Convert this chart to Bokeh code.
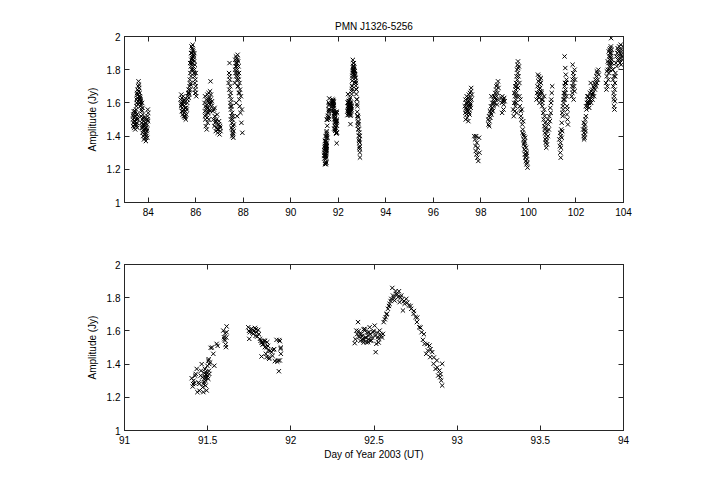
from bokeh.plotting import figure
from bokeh.layouts import column
from bokeh.models import LinearAxis, FixedTicker, Range1d, CustomJSTickFormatter
from bokeh.embed import file_html
from bokeh.resources import INLINE

# ---------------- data (Day of Year 2003, Amplitude Jy) ----------------
day_83 = [83.35,83.36,83.37,83.38,83.39,83.40,83.41,83.42,83.43,83.44,83.45,83.46,83.47,83.48,83.49,83.50,83.51,83.52,83.53,83.54,83.55,83.37,83.41,83.45,83.49,83.53,
          83.50,83.51,83.52,83.53,83.54,83.55,83.56,83.57,83.58,83.59,83.60,83.61,83.62,83.63,83.64,83.65,83.66,83.67,83.68,83.70,83.72,83.74,83.76,83.53,83.57,83.61,83.65,83.69,83.59,83.63,
          83.70,83.72,83.73,83.74,83.75,83.76,83.77,83.78,83.79,83.80,83.81,83.82,83.83,83.84,83.85,83.86,83.87,83.88,83.89,83.90,83.91,83.92,83.93,83.94,83.95,83.96,83.97,83.98,83.99,84.00,83.75,83.80,83.85,83.90,83.95,83.78,83.88,83.98]
amp_83 = [1.50,1.46,1.53,1.48,1.55,1.45,1.51,1.47,1.54,1.49,1.44,1.52,1.47,1.50,1.56,1.46,1.53,1.48,1.51,1.45,1.50,1.52,1.49,1.55,1.47,1.53,
          1.58,1.62,1.60,1.66,1.63,1.68,1.61,1.65,1.70,1.73,1.67,1.64,1.69,1.62,1.66,1.60,1.63,1.58,1.61,1.59,1.56,1.60,1.57,1.65,1.59,1.71,1.64,1.62,1.67,1.60,
          1.52,1.48,1.55,1.45,1.50,1.42,1.53,1.47,1.40,1.49,1.44,1.38,1.46,1.41,1.51,1.39,1.44,1.48,1.42,1.37,1.45,1.40,1.50,1.43,1.47,1.39,1.52,1.56,1.49,1.54,1.46,1.43,1.47,1.41,1.44,1.51,1.45,1.50]

day_85 = [85.36,85.38,85.39,85.40,85.41,85.42,85.43,85.44,85.45,85.46,85.47,85.48,85.49,85.50,85.51,85.52,85.53,85.54,85.55,85.56,85.58,85.60,85.62,85.64,85.66,85.68,85.70,85.72,85.40,85.45,85.50,85.55,85.60,85.65,85.70,
          85.72,85.74,85.75,85.76,85.77,85.78,85.79,85.80,85.81,85.82,85.83,85.84,85.85,85.86,85.87,85.88,85.89,85.90,85.91,85.92,85.93,85.94,85.95,85.96,85.97,85.98,85.99,86.00,86.02,85.76,85.80,85.84,85.88,85.92,85.96,86.00,85.82,85.86,85.90,85.94,85.78,85.98]
amp_85 = [1.62,1.58,1.65,1.60,1.55,1.63,1.57,1.61,1.53,1.59,1.64,1.56,1.52,1.58,1.62,1.54,1.60,1.51,1.57,1.55,1.50,1.53,1.56,1.60,1.64,1.66,1.68,1.65,1.59,1.55,1.61,1.52,1.57,1.62,1.63,
          1.66,1.70,1.74,1.68,1.78,1.72,1.82,1.76,1.86,1.80,1.90,1.84,1.93,1.88,1.95,1.86,1.91,1.82,1.89,1.78,1.85,1.80,1.76,1.72,1.68,1.74,1.66,1.70,1.64,1.84,1.90,1.87,1.92,1.88,1.83,1.78,1.94,1.80,1.86,1.90,1.71,1.66]

day_86 = [86.37,86.38,86.39,86.40,86.41,86.42,86.43,86.44,86.45,86.46,86.47,86.48,86.49,86.50,86.51,86.52,86.53,86.54,86.55,86.56,86.57,86.58,86.59,86.60,86.62,86.64,86.66,86.68,86.40,86.45,86.50,86.55,86.60,86.65,86.62,
          86.72,86.74,86.76,86.78,86.80,86.82,86.84,86.86,86.88,86.90,86.92,86.94,86.96,86.98,87.00,87.02,87.04,86.79,86.85,86.91,86.97,87.03]
amp_86 = [1.60,1.55,1.64,1.50,1.58,1.46,1.53,1.62,1.56,1.44,1.59,1.51,1.65,1.48,1.57,1.61,1.54,1.66,1.50,1.60,1.63,1.56,1.59,1.67,1.62,1.65,1.58,1.61,1.52,1.57,1.54,1.62,1.55,1.60,1.73,
          1.55,1.50,1.56,1.46,1.52,1.48,1.43,1.50,1.45,1.53,1.42,1.47,1.44,1.49,1.41,1.46,1.43,1.57,1.49,1.44,1.47,1.45]

day_87 = [87.38,87.40,87.41,87.42,87.43,87.44,87.45,87.46,87.47,87.48,87.49,87.50,87.51,87.52,87.53,87.54,87.55,87.56,87.57,87.58,87.59,87.60,87.42,87.46,87.50,87.54,87.58,87.48,87.56,
          87.64,87.65,87.66,87.67,87.68,87.69,87.70,87.71,87.72,87.73,87.74,87.75,87.76,87.77,87.78,87.79,87.80,87.81,87.82,87.83,87.84,87.85,87.86,87.88,87.90,87.92,87.94,87.96,87.68,87.72,87.76,87.80,87.84,87.70,87.78,87.74]
amp_87 = [1.72,1.78,1.68,1.84,1.74,1.64,1.70,1.60,1.66,1.56,1.62,1.52,1.58,1.48,1.54,1.44,1.50,1.41,1.46,1.39,1.43,1.47,1.76,1.58,1.45,1.40,1.52,1.50,1.42,
          1.72,1.80,1.86,1.78,1.84,1.88,1.76,1.82,1.87,1.74,1.84,1.80,1.89,1.70,1.85,1.76,1.82,1.66,1.78,1.62,1.72,1.58,1.68,1.54,1.64,1.48,1.56,1.42,1.82,1.78,1.86,1.74,1.66,1.60,1.70,1.52]

day_91 = [91.404,91.410,91.420,91.428,91.434,91.438,91.450,91.458,91.464,91.470,91.474,91.478,91.484,91.484,91.490,91.494,91.498,91.504,91.510,91.504,
          91.412,91.486,91.490,91.496,91.480,91.506,91.510,
          91.415,91.425,91.445,91.460,91.468,91.476,91.482,91.488,91.492,91.500,91.508,91.515,91.450,
          91.518,91.534,91.540,91.554,91.594,91.598,91.604,91.608,91.614,91.614,91.610,
          91.526,91.560,91.600,91.605,91.612,
          91.744,91.754,91.750,91.764,91.774,91.784,91.794,91.798,91.804,91.814,91.824,91.824,91.830,91.838,91.844,91.850,91.854,91.858,91.864,91.870,
          91.884,91.894,91.904,91.914,91.924,91.928,91.934,91.938,91.940,91.934,
          91.748,91.758,91.768,91.778,91.788,91.790,91.808,91.818,91.828,91.835,91.845,91.855,91.862,91.868,91.875,91.890,91.900,91.918,91.930,91.940]
amp_91 = [1.315,1.265,1.285,1.341,1.371,1.231,1.281,1.331,1.400,1.260,1.231,1.291,1.321,1.371,1.351,1.241,1.390,1.420,1.341,1.311,
          1.280,1.300,1.335,1.320,1.345,1.430,1.400,
          1.300,1.330,1.290,1.360,1.320,1.280,1.310,1.270,1.340,1.330,1.360,1.410,1.240,
          1.498,1.462,1.390,1.522,1.602,1.562,1.542,1.518,1.627,1.592,1.502,
          1.500,1.510,1.550,1.585,1.560,
          1.622,1.592,1.552,1.612,1.582,1.618,1.592,1.566,1.606,1.552,1.532,1.446,1.518,1.542,1.502,1.462,1.442,1.532,1.482,1.432,
          1.472,1.486,1.418,1.546,1.422,1.357,1.538,1.492,1.462,1.422,
          1.600,1.610,1.590,1.600,1.570,1.610,1.580,1.540,1.530,1.520,1.540,1.500,1.510,1.440,1.480,1.450,1.490,1.415,1.545,1.500]

day_92 = [92.384,92.394,92.404,92.410,92.424,92.434,92.444,92.454,92.464,92.470,
          92.414,92.434,92.444,92.454,92.464,92.474,92.484,92.494,92.504,92.510,92.514,92.524,92.534,92.544,92.554,
          92.388,92.398,92.408,92.418,92.428,92.438,92.448,92.458,92.468,92.478,92.488,92.498,92.508,92.518,92.528,92.538,92.548,92.438,92.478,92.528,
          92.558,92.570,92.578,92.584,92.594,92.604,92.610,92.614,92.624,92.634,92.644,92.650,92.654,92.664,92.674,92.684,92.694,
          92.565,92.575,92.590,92.600,92.620,92.630,92.640,92.660,92.670,92.680,92.700,
          92.710,92.724,92.738,92.750,92.758,92.772,92.786,92.794,92.804,92.814,92.824,92.834,92.838,92.850,92.858,92.870,92.878,
          92.720,92.740,92.760,92.780,92.800,92.820,92.840,92.860,92.880,92.900,
          92.886,92.894,92.904,92.910,92.910,92.898]
amp_92 = [1.526,1.602,1.653,1.562,1.582,1.542,1.612,1.558,1.532,1.592,
          1.582,1.552,1.602,1.532,1.572,1.622,1.542,1.592,1.632,1.472,1.522,1.562,1.602,1.572,1.582,
          1.550,1.580,1.600,1.540,1.570,1.610,1.560,1.590,1.550,1.580,1.560,1.600,1.570,1.590,1.550,1.580,1.560,1.530,1.540,1.530,
          1.653,1.683,1.703,1.733,1.763,1.793,1.859,1.813,1.783,1.823,1.803,1.839,1.773,1.813,1.723,1.763,1.793,
          1.670,1.700,1.750,1.780,1.800,1.840,1.820,1.800,1.790,1.780,1.770,
          1.753,1.733,1.703,1.683,1.653,1.622,1.592,1.546,1.522,1.462,1.482,1.512,1.442,1.472,1.402,1.371,1.422,
          1.750,1.720,1.680,1.620,1.580,1.520,1.490,1.440,1.380,1.340,
          1.331,1.361,1.301,1.402,1.271,1.321]

day_97 = [97.32,97.34,97.35,97.36,97.37,97.38,97.39,97.40,97.41,97.42,97.43,97.44,97.45,97.46,97.47,97.48,97.49,97.50,97.51,97.52,97.53,97.54,97.55,97.56,97.57,97.58,97.59,97.60,97.62,97.38,97.44,97.50,97.56,
          97.72,97.75,97.77,97.78,97.80,97.81,97.83,97.85,97.87,97.89,97.92,97.94]
amp_97 = [1.58,1.54,1.62,1.50,1.57,1.60,1.53,1.64,1.56,1.51,1.60,1.58,1.55,1.63,1.49,1.59,1.65,1.56,1.61,1.53,1.58,1.66,1.60,1.63,1.57,1.67,1.69,1.62,1.65,1.56,1.61,1.54,1.59,
          1.40,1.38,1.34,1.31,1.40,1.29,1.36,1.27,1.33,1.25,1.39,1.30]

day_98 = [98.30,98.32,98.34,98.36,98.38,98.40,98.42,98.44,98.46,98.48,98.50,98.52,98.54,98.56,98.58,98.60,98.62,98.64,98.66,98.68,98.70,98.72,98.74,98.35,98.41,98.47,98.53,98.59,98.65,98.71,98.44,98.68,
          98.86,98.88,98.90,98.92,98.94,98.96,98.98,99.00,98.89,98.95]
amp_98 = [1.50,1.47,1.52,1.49,1.55,1.51,1.58,1.53,1.56,1.60,1.55,1.62,1.58,1.64,1.60,1.66,1.62,1.68,1.64,1.71,1.66,1.73,1.69,1.46,1.54,1.57,1.60,1.63,1.70,1.62,1.64,1.59,
          1.63,1.60,1.64,1.61,1.62,1.59,1.63,1.61,1.54,1.56]

day_99 = [99.36,99.38,99.40,99.42,99.44,99.45,99.46,99.47,99.48,99.49,99.50,99.51,99.52,99.53,99.54,99.55,99.56,99.57,99.58,99.60,99.62,99.40,99.44,99.48,99.52,99.56,99.50,
          99.62,99.64,99.66,99.68,99.70,99.72,99.74,99.76,99.78,99.79,99.80,99.81,99.82,99.83,99.84,99.85,99.86,99.87,99.88,99.89,99.90,99.91,99.92,99.93,99.94,99.96,99.68,99.75,99.82,99.86,99.90,99.94]
amp_99 = [1.56,1.52,1.60,1.55,1.64,1.58,1.68,1.62,1.72,1.66,1.76,1.70,1.80,1.74,1.83,1.78,1.85,1.81,1.76,1.82,1.72,1.66,1.70,1.60,1.64,1.69,1.54,
          1.64,1.58,1.62,1.55,1.50,1.56,1.47,1.44,1.49,1.41,1.38,1.35,1.40,1.32,1.37,1.29,1.34,1.27,1.31,1.25,1.33,1.28,1.23,1.30,1.26,1.21,1.52,1.42,1.36,1.39,1.29,1.24]

day_100 = [100.34,100.36,100.38,100.40,100.42,100.43,100.44,100.45,100.46,100.47,100.48,100.49,100.50,100.52,100.54,100.56,100.58,100.40,100.46,100.52,
           100.56,100.58,100.60,100.62,100.64,100.66,100.67,100.68,100.69,100.70,100.71,100.72,100.73,100.74,100.75,100.76,100.78,100.80,100.82,100.84,100.86,100.88,100.90,100.92,100.94,100.96,100.98,101.00,100.70,100.76,100.82,100.66,100.95]
amp_100 = [1.62,1.66,1.70,1.64,1.73,1.68,1.76,1.63,1.71,1.66,1.74,1.69,1.65,1.72,1.67,1.62,1.60,1.77,1.60,1.75,
           1.66,1.58,1.62,1.54,1.50,1.56,1.46,1.52,1.42,1.48,1.38,1.45,1.36,1.41,1.33,1.39,1.35,1.43,1.40,1.47,1.44,1.52,1.49,1.57,1.54,1.62,1.66,1.70,1.44,1.37,1.50,1.64,1.60]

day_101 = [101.30,101.32,101.33,101.34,101.35,101.36,101.37,101.38,101.40,101.42,101.36,
           101.40,101.42,101.44,101.45,101.46,101.47,101.48,101.49,101.50,101.52,101.53,101.54,101.55,101.56,101.58,101.60,101.62,101.64,101.66,
           101.82,101.84,101.85,101.86,101.87,101.88,101.89,101.90,101.92,101.94,101.96,101.52,101.55,101.57,101.60,101.62,101.64,101.86,101.90,101.94]
amp_101 = [1.38,1.34,1.42,1.30,1.36,1.40,1.33,1.44,1.39,1.43,1.27,
           1.48,1.54,1.52,1.58,1.56,1.62,1.60,1.66,1.64,1.70,1.62,1.72,1.66,1.68,1.72,1.64,1.53,1.50,1.47,
           1.64,1.70,1.66,1.74,1.68,1.78,1.72,1.76,1.70,1.80,1.74,1.88,1.81,1.77,1.74,1.58,1.56,1.83,1.62,1.67]

day_102 = [102.30,102.32,102.33,102.34,102.35,102.36,102.37,102.38,102.39,102.40,102.42,102.44,102.46,102.48,102.34,102.38,102.42,
           102.48,102.50,102.52,102.54,102.56,102.58,102.60,102.62,102.64,102.66,102.68,102.70,102.72,102.74,102.76,102.78,102.80,102.82,102.84,102.86,102.88,102.90,102.92,102.94,102.96,102.52,102.58,102.64,102.70,102.76,102.82,102.88]
amp_102 = [1.44,1.40,1.48,1.42,1.46,1.39,1.44,1.41,1.50,1.43,1.52,1.56,1.60,1.64,1.38,1.47,1.58,
           1.62,1.58,1.64,1.60,1.57,1.66,1.62,1.72,1.60,1.64,1.68,1.62,1.66,1.70,1.64,1.72,1.68,1.74,1.70,1.76,1.72,1.78,1.74,1.80,1.77,1.60,1.62,1.67,1.65,1.69,1.71,1.79]

day_103 = [103.26,103.28,103.30,103.32,103.34,103.36,103.37,103.38,103.39,103.40,103.41,103.42,103.43,103.44,103.45,103.46,103.47,103.48,103.49,103.50,103.52,103.54,103.30,103.34,103.38,103.42,103.46,103.50,103.48,
           103.55,103.56,103.57,103.58,103.59,103.60,103.61,103.62,103.63,103.64,103.65,103.66,103.68,103.70,103.72,103.74,103.76,103.78,103.80,103.82,103.84,103.86,103.88,103.90,103.92,103.94,103.96,103.98,103.60,103.64,103.75,103.85,103.95,103.80,103.90]
amp_103 = [1.72,1.68,1.76,1.70,1.80,1.74,1.84,1.78,1.88,1.82,1.92,1.86,1.90,1.84,1.93,1.88,1.94,1.82,1.90,1.86,1.84,1.80,1.79,1.85,1.91,1.80,1.87,1.92,1.99,
           1.80,1.74,1.70,1.66,1.62,1.58,1.64,1.56,1.68,1.72,1.76,1.78,1.84,1.88,1.82,1.90,1.86,1.92,1.88,1.94,1.86,1.90,1.95,1.88,1.92,1.86,1.90,1.94,1.76,1.61,1.93,1.84,1.88,1.91,1.83]

title_text = "PMN J1326-5256"
y_label = "Amplitude (Jy)"
x_label = "Day of Year 2003 (UT)"
y_ticks = [1, 1.2, 1.4, 1.6, 1.8, 2]
y_tick_labels = ["1", "1.2", "1.4", "1.6", "1.8", "2"]
top_x_ticks = [84, 86, 88, 90, 92, 94, 96, 98, 100, 102, 104]
top_x_tick_labels = ["84", "86", "88", "90", "92", "94", "96", "98", "100", "102", "104"]
bot_x_ticks = [91, 91.5, 92, 92.5, 93, 93.5, 94]
bot_x_tick_labels = ["91", "91.5", "92", "92.5", "93", "93.5", "94"]

all_day = day_83 + day_85 + day_86 + day_87 + day_91 + day_92 + day_97 + day_98 + day_99 + day_100 + day_101 + day_102 + day_103
all_amp = amp_83 + amp_85 + amp_86 + amp_87 + amp_91 + amp_92 + amp_97 + amp_98 + amp_99 + amp_100 + amp_101 + amp_102 + amp_103

FONT = "Liberation Sans"
AX = "#262626"


def style_axis(ax, ticks, labels, show_labels=True):
    ax.ticker = FixedTicker(ticks=ticks)
    ax.major_tick_in = 5
    ax.major_tick_out = 0
    ax.minor_tick_in = 0
    ax.minor_tick_out = 0
    ax.axis_line_color = AX
    ax.major_tick_line_color = AX
    ax.major_label_text_font = FONT
    ax.major_label_text_font_size = "10px"
    ax.major_label_text_color = "black"
    ax.axis_label_text_font = FONT
    ax.axis_label_text_font_size = "10px"
    ax.axis_label_text_font_style = "normal"
    ax.axis_label_text_color = "black"
    if show_labels:
        ax.major_label_overrides = dict(zip(ticks, labels))
    else:
        ax.formatter = CustomJSTickFormatter(code="return ''")
        ax.major_label_standoff = 0


def make_panel(x_range, x_ticks, x_labels, title, xlab, h, top, bottom):
    kw = dict(width=715, height=h, output_backend="svg", toolbar_location=None,
              x_range=Range1d(*x_range), y_range=Range1d(1, 2),
              min_border_left=124, min_border_right=92, min_border_top=top, min_border_bottom=bottom)
    if title:
        kw["title"] = title
    p = figure(**kw)
    p.grid.visible = False
    p.outline_line_color = AX
    p.background_fill_color = "white"
    p.border_fill_color = "white"
    if title:
        p.title.align = "center"
        p.title.text_font = FONT
        p.title.text_font_size = "10px"
        p.title.text_font_style = "normal"
        p.title.text_color = "black"
    style_axis(p.xaxis[0], x_ticks, x_labels)
    style_axis(p.yaxis[0], y_ticks, y_tick_labels)
    p.yaxis[0].axis_label = y_label
    p.yaxis[0].major_label_standoff = 4
    p.yaxis[0].axis_label_standoff = 6
    p.xaxis[0].major_label_standoff = 5
    if xlab:
        p.xaxis[0].axis_label = xlab
        p.xaxis[0].axis_label_standoff = 2
    ax_top = LinearAxis()
    style_axis(ax_top, x_ticks, x_labels, show_labels=False)
    p.add_layout(ax_top, "above")
    ax_right = LinearAxis()
    style_axis(ax_right, y_ticks, y_tick_labels, show_labels=False)
    p.add_layout(ax_right, "right")
    return p


p1 = make_panel((83, 104), top_x_ticks, top_x_tick_labels, title_text, None, 232, 36, 30)
p1.scatter(all_day, all_amp, marker="x", size=6, line_color="black", line_width=1)

p2 = make_panel((91, 94), bot_x_ticks, bot_x_tick_labels, None, x_label, 243, 32, 45)
p2.scatter(all_day, all_amp, marker="x", size=6, line_color="black", line_width=1)

layout = column(p1, p2, spacing=0)
open("out.html", "w").write(file_html(layout, INLINE))
